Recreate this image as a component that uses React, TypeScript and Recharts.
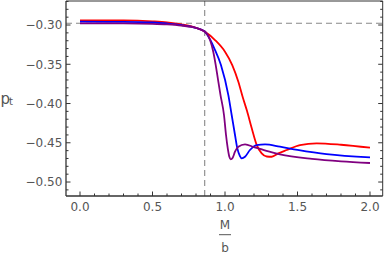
import React from 'react';
import { LineChart, Line, XAxis, YAxis, ReferenceLine } from 'recharts';

// ---- data ----
const redX = [0, 0.3, 0.5, 0.6, 0.7, 0.8, 0.862, 0.931, 1.0, 1.05, 1.092, 1.124, 1.152, 1.184, 1.219, 1.253, 1.288, 1.322, 1.368, 1.426, 1.517, 1.632, 1.8, 2.0];
const redY = [-0.294, -0.2941, -0.2953, -0.2966, -0.2992, -0.3036, -0.3086, -0.3191, -0.334, -0.351, -0.3722, -0.393, -0.4096, -0.4312, -0.4529, -0.4635, -0.4675, -0.4678, -0.4635, -0.4592, -0.4529, -0.4507, -0.4525, -0.4563];

const blueX = [0, 0.3, 0.5, 0.6, 0.7, 0.8, 0.862, 0.897, 0.926, 0.972, 1.023, 1.046, 1.069, 1.085, 1.103, 1.115, 1.138, 1.172, 1.219, 1.276, 1.379, 1.5, 1.7, 2.0];
const blueY = [-0.2958, -0.296, -0.2968, -0.298, -0.3, -0.3038, -0.3086, -0.3185, -0.3297, -0.351, -0.3892, -0.4146, -0.4401, -0.4571, -0.4669, -0.4698, -0.4678, -0.4592, -0.4529, -0.452, -0.455, -0.459, -0.4645, -0.4685];

const purpleX = [0, 0.3, 0.5, 0.6, 0.7, 0.8, 0.862, 0.897, 0.919, 0.936, 0.954, 0.969, 0.993, 1.007, 1.019, 1.03, 1.039, 1.053, 1.069, 1.092, 1.138, 1.2, 1.3, 1.379, 1.6, 1.8, 2.0];
const purpleY = [-0.2978, -0.2979, -0.2985, -0.2993, -0.3008, -0.3036, -0.3086, -0.3191, -0.334, -0.351, -0.3722, -0.3892, -0.4146, -0.4401, -0.4571, -0.4678, -0.4711, -0.469, -0.4614, -0.455, -0.452, -0.4555, -0.461, -0.4647, -0.4705, -0.4737, -0.4758];

const xTicks = [0, 0.1, 0.2, 0.3, 0.4, 0.5, 0.6, 0.7, 0.8, 0.9, 1.0, 1.1, 1.2, 1.3, 1.4, 1.5, 1.6, 1.7, 1.8, 1.9, 2.0];
const yTicks = [-0.51, -0.5, -0.49, -0.48, -0.47, -0.46, -0.45, -0.44, -0.43, -0.42, -0.41, -0.4, -0.39, -0.38, -0.37, -0.36, -0.35, -0.34, -0.33, -0.32, -0.31, -0.3, -0.29, -0.28, -0.27];
const xDomain = [-0.0966, 2.0876];
const yDomain = [-0.5178, -0.2694];
const vLineX = 0.86;
const hLineY = -0.2978;

const toPoints = (xs: number[], ys: number[]) => xs.map((x, i) => ({ x, y: ys[i] }));
const redData = toPoints(redX, redY);
const blueData = toPoints(blueX, blueY);
const purpleData = toPoints(purpleX, purpleY);

const FONT = '"DejaVu Sans", sans-serif';
const FRAME = '#333';
const LABEL = '#555';
const isMajor = (v: number, step: number) => Math.abs(v / step - Math.round(v / step)) < 1e-6;
const fmtY = (v: number) => v.toFixed(2).replace('-', '\u2212');

const BottomTick = (props: any) => {
  const { x, y, payload } = props;
  const v = payload.value;
  const major = isMajor(v, 0.5);
  return (
    <g>
      <line x1={x} x2={x} y1={y} y2={y - (major ? 4.5 : 2.5)} stroke={FRAME} strokeWidth={1} />
      {major && (
        <text x={x} y={y + 14.7} textAnchor="middle" fontSize={12} fontFamily={FONT} fill={LABEL}>
          {v.toFixed(1)}
        </text>
      )}
    </g>
  );
};

const TopTick = (props: any) => {
  const { x, y, payload } = props;
  const major = isMajor(payload.value, 0.5);
  return <line x1={x} x2={x} y1={y} y2={y + (major ? 4.5 : 2.5)} stroke={FRAME} strokeWidth={1} />;
};

const LeftTick = (props: any) => {
  const { x, y, payload } = props;
  const v = payload.value;
  const major = isMajor(v, 0.05);
  return (
    <g>
      <line x1={x} x2={x + (major ? 4.5 : 2.5)} y1={y} y2={y} stroke={FRAME} strokeWidth={1} />
      {major && (
        <text x={x - 3.7} y={y + 4.4} textAnchor="end" fontSize={12} fontFamily={FONT} fill={LABEL}>
          {fmtY(v)}
        </text>
      )}
    </g>
  );
};

const RightTick = (props: any) => {
  const { x, y, payload } = props;
  const major = isMajor(payload.value, 0.05);
  return <line x1={x} x2={x - (major ? 4.5 : 2.5)} y1={y} y2={y} stroke={FRAME} strokeWidth={1} />;
};

export default function App() {
  return (
    <div style={{ position: 'absolute', left: 0, top: 0, width: 385, height: 255 }}>
      <LineChart width={385} height={255} margin={{ top: 0, right: 1.3, bottom: 0, left: 0 }}>
        <XAxis
          dataKey="x"
          type="number"
          domain={xDomain}
          allowDataOverflow
          ticks={xTicks}
          interval={0}
          height={59}
          tickSize={0}
          tickMargin={0}
          tick={BottomTick}
          axisLine={{ stroke: FRAME, strokeWidth: 1.3 }}
        />
        <XAxis
          xAxisId="top"
          orientation="top"
          type="number"
          domain={xDomain}
          allowDataOverflow
          ticks={xTicks}
          interval={0}
          height={1}
          tickSize={0}
          tickMargin={0}
          tick={TopTick}
          axisLine={{ stroke: FRAME, strokeWidth: 1 }}
        />
        <YAxis
          type="number"
          domain={yDomain}
          allowDataOverflow
          ticks={yTicks}
          interval={0}
          width={66}
          tickSize={0}
          tickMargin={0}
          tick={LeftTick}
          axisLine={{ stroke: FRAME, strokeWidth: 1.3 }}
        />
        <YAxis
          yAxisId="right"
          orientation="right"
          type="number"
          domain={yDomain}
          allowDataOverflow
          ticks={yTicks}
          interval={0}
          width={1}
          tickSize={0}
          tickMargin={0}
          tick={RightTick}
          axisLine={{ stroke: FRAME, strokeWidth: 1 }}
        />
        <ReferenceLine x={vLineX} stroke="#888" strokeDasharray="6 4" strokeWidth={1.1} />
        <ReferenceLine y={hLineY} stroke="#888" strokeDasharray="6 4" strokeWidth={1.1} />
        <Line data={redData} dataKey="y" type="monotone" stroke="#ff0000" strokeWidth={1.8} dot={false} isAnimationActive={false} />
        <Line data={blueData} dataKey="y" type="monotone" stroke="#0000ff" strokeWidth={1.8} dot={false} isAnimationActive={false} />
        <Line data={purpleData} dataKey="y" type="monotone" stroke="#800080" strokeWidth={1.8} dot={false} isAnimationActive={false} />
      </LineChart>
      <svg width={385} height={255} style={{ position: 'absolute', left: 0, top: 0, pointerEvents: 'none' }}>
        <text x={0.5} y={103.5} fontSize={15} fontFamily={FONT} fill={LABEL}>
          p
        </text>
        <text x={9} y={104.5} fontSize={10} fontFamily={FONT} fill={LABEL}>
          t
        </text>
        <text x={225} y={228.7} textAnchor="middle" fontSize={12} fontFamily={FONT} fill={LABEL}>
          M
        </text>
        <line x1={219} x2={231} y1={234.7} y2={234.7} stroke={LABEL} strokeWidth={1} />
        <text x={225} y={252} textAnchor="middle" fontSize={12} fontFamily={FONT} fill={LABEL}>
          b
        </text>
      </svg>
    </div>
  );
}
